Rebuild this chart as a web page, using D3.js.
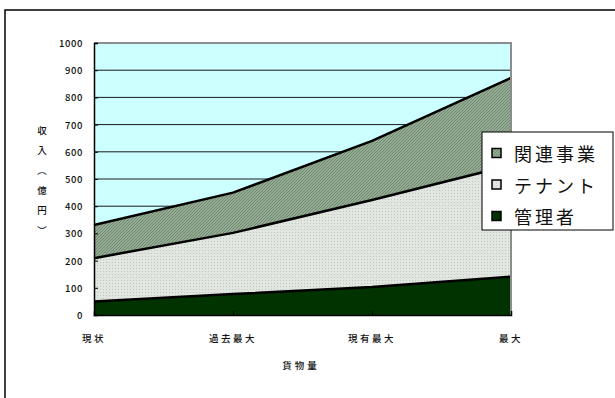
<!DOCTYPE html>
<html>
<head>
<meta charset="utf-8">
<script src="https://cdn.jsdelivr.net/npm/d3@7"></script>
<style>
  html, body { margin: 0; padding: 0; background: #fff; }
  svg { display: block; }
  text { font-family: "Noto Sans CJK JP", "Noto Sans", sans-serif; fill: #111; }
</style>
</head>
<body>
<svg id="chart" width="615" height="398"></svg>
<script>
// Categories along the x axis (cargo volume scenarios)
const categories = ["現状", "過去最大", "現有最大", "最大"];
// Revenue by segment (億円), stacked bottom to top
const kanrisha = [50, 77, 103, 141];     // 管理者
const tenant   = [159, 225, 320, 410];   // テナント
const kanren   = [122, 148, 217, 321];   // 関連事業
const seriesNames = ["管理者", "テナント", "関連事業"];
const yTicks = [0, 100, 200, 300, 400, 500, 600, 700, 800, 900, 1000];
const yTitleChars = ["収", "入", "︵", "億", "円", "︶"];
const xTitle = "貨物量";

const svg = d3.select("#chart");
const W = 615, H = 398;
const plot = { left: 94, right: 511, top: 43, bottom: 315 };

// Patterns for the filled layers
const defs = svg.append("defs");
const hatch = defs.append("pattern")
  .attr("id", "hatch").attr("patternUnits", "userSpaceOnUse")
  .attr("width", 3).attr("height", 3);
hatch.append("rect").attr("width", 3).attr("height", 3).attr("fill", "#95ab95");
hatch.append("path").attr("d", "M0,3 L3,0 M-1,1 L1,-1 M2,4 L4,2")
  .attr("stroke", "#6b866b").attr("stroke-width", 0.9);

const dots = defs.append("pattern")
  .attr("id", "dots").attr("patternUnits", "userSpaceOnUse")
  .attr("width", 3).attr("height", 3);
dots.append("rect").attr("width", 3).attr("height", 3).attr("fill", "#e1e6e1");
dots.append("rect").attr("x", 1).attr("y", 1).attr("width", 1).attr("height", 1).attr("fill", "#bfc7bf");

const fills = { "管理者": "#003300", "テナント": "url(#dots)", "関連事業": "url(#hatch)" };

// Outer chart frame
svg.append("rect")
  .attr("x", 5).attr("y", 10).attr("width", W + 10).attr("height", H + 10)
  .attr("fill", "#fff").attr("stroke", "#000").attr("stroke-width", 1.5);

const x = d3.scalePoint().domain(categories).range([plot.left, plot.right]);
const y = d3.scaleLinear().domain([0, 1000]).range([plot.bottom, plot.top]);

// Plot background
svg.append("rect")
  .attr("x", plot.left).attr("y", plot.top)
  .attr("width", plot.right - plot.left).attr("height", plot.bottom - plot.top)
  .attr("fill", "#ccffff");

// Horizontal gridlines
svg.append("g").selectAll("line")
  .data(yTicks.filter(v => v > 0 && v < 1000))
  .join("line")
  .attr("x1", plot.left).attr("x2", plot.right)
  .attr("y1", d => y(d)).attr("y2", d => y(d))
  .attr("stroke", "#1a1a1a").attr("stroke-width", 1);

// Stacked areas
const rows = categories.map((c, i) => ({
  cat: c, "管理者": kanrisha[i], "テナント": tenant[i], "関連事業": kanren[i]
}));
const stack = d3.stack().keys(seriesNames)(rows);

const area = d3.area()
  .x(d => x(d.data.cat))
  .y0(d => y(d[0]))
  .y1(d => y(d[1]));
const topLine = d3.line()
  .x(d => x(d.data.cat))
  .y(d => y(d[1]));

svg.append("g").selectAll("path")
  .data(stack)
  .join("path")
  .attr("d", area)
  .attr("fill", d => fills[d.key]);

svg.append("g").selectAll("path")
  .data(stack)
  .join("path")
  .attr("d", topLine)
  .attr("fill", "none")
  .attr("stroke", "#000")
  .attr("stroke-width", 2.5);

// Plot border: gray top/right, black axes
svg.append("path")
  .attr("d", `M${plot.left},${plot.top} H${plot.right} V${plot.bottom}`)
  .attr("fill", "none").attr("stroke", "#8c8c8c").attr("stroke-width", 2);

// Y axis with inward ticks
const yAxis = svg.append("g")
  .attr("transform", `translate(${plot.left},0)`)
  .call(d3.axisRight(y).tickValues(yTicks).tickSize(4).tickFormat(""));
yAxis.select(".domain").attr("stroke", "#000").attr("stroke-width", 1.5);
yAxis.selectAll(".tick line").attr("stroke", "#000");

svg.append("g").selectAll("text")
  .data(yTicks)
  .join("text")
  .attr("x", 83).attr("y", d => y(d))
  .attr("text-anchor", "end")
  .attr("dominant-baseline", "central")
  .attr("font-size", 9.5)
  .attr("font-weight", 500)
  .attr("letter-spacing", 0.6)
  .text(d => d);

// X axis with inward ticks
const xAxis = svg.append("g")
  .attr("transform", `translate(0,${plot.bottom})`)
  .call(d3.axisTop(x).tickSize(4).tickFormat(""));
xAxis.select(".domain").attr("stroke", "#000").attr("stroke-width", 1.5);
xAxis.selectAll(".tick line").attr("stroke", "#000");

svg.append("g").selectAll("text")
  .data(categories)
  .join("text")
  .attr("x", d => x(d)).attr("y", 338)
  .attr("text-anchor", "middle")
  .attr("dominant-baseline", "central")
  .attr("font-size", 9.5)
  .attr("font-weight", 500)
  .attr("letter-spacing", 2.5)
  .text(d => d);

// Axis titles
svg.append("text")
  .attr("x", 301).attr("y", 365)
  .attr("text-anchor", "middle")
  .attr("dominant-baseline", "central")
  .attr("font-size", 9.5)
  .attr("font-weight", 500)
  .attr("letter-spacing", 3)
  .text(xTitle);

svg.append("g").selectAll("text")
  .data(yTitleChars)
  .join("text")
  .attr("x", 42).attr("y", (d, i) => 130 + i * 20)
  .attr("text-anchor", "middle")
  .attr("dominant-baseline", "central")
  .attr("font-size", 9.5)
  .attr("font-weight", 500)
  .text(d => d);

// Legend
const legend = svg.append("g");
legend.append("rect")
  .attr("x", 482).attr("y", 132).attr("width", 131).attr("height", 98)
  .attr("fill", "#fff").attr("stroke", "#000").attr("stroke-width", 1);

const legendOrder = ["関連事業", "テナント", "管理者"];
const ly = d3.scalePoint().domain(legendOrder).range([153, 216]);
const items = legend.selectAll("g.item")
  .data(legendOrder)
  .join("g").attr("class", "item")
  .attr("transform", d => `translate(0,${ly(d)})`);
items.append("rect")
  .attr("x", 492).attr("y", -4.5).attr("width", 9).attr("height", 9)
  .attr("fill", d => fills[d]).attr("stroke", "#000").attr("stroke-width", 1.5);
items.append("text")
  .attr("x", 514).attr("y", 0)
  .attr("dominant-baseline", "central")
  .attr("font-size", 18)
  .attr("letter-spacing", 3)
  .text(d => d);
</script>
</body>
</html>
